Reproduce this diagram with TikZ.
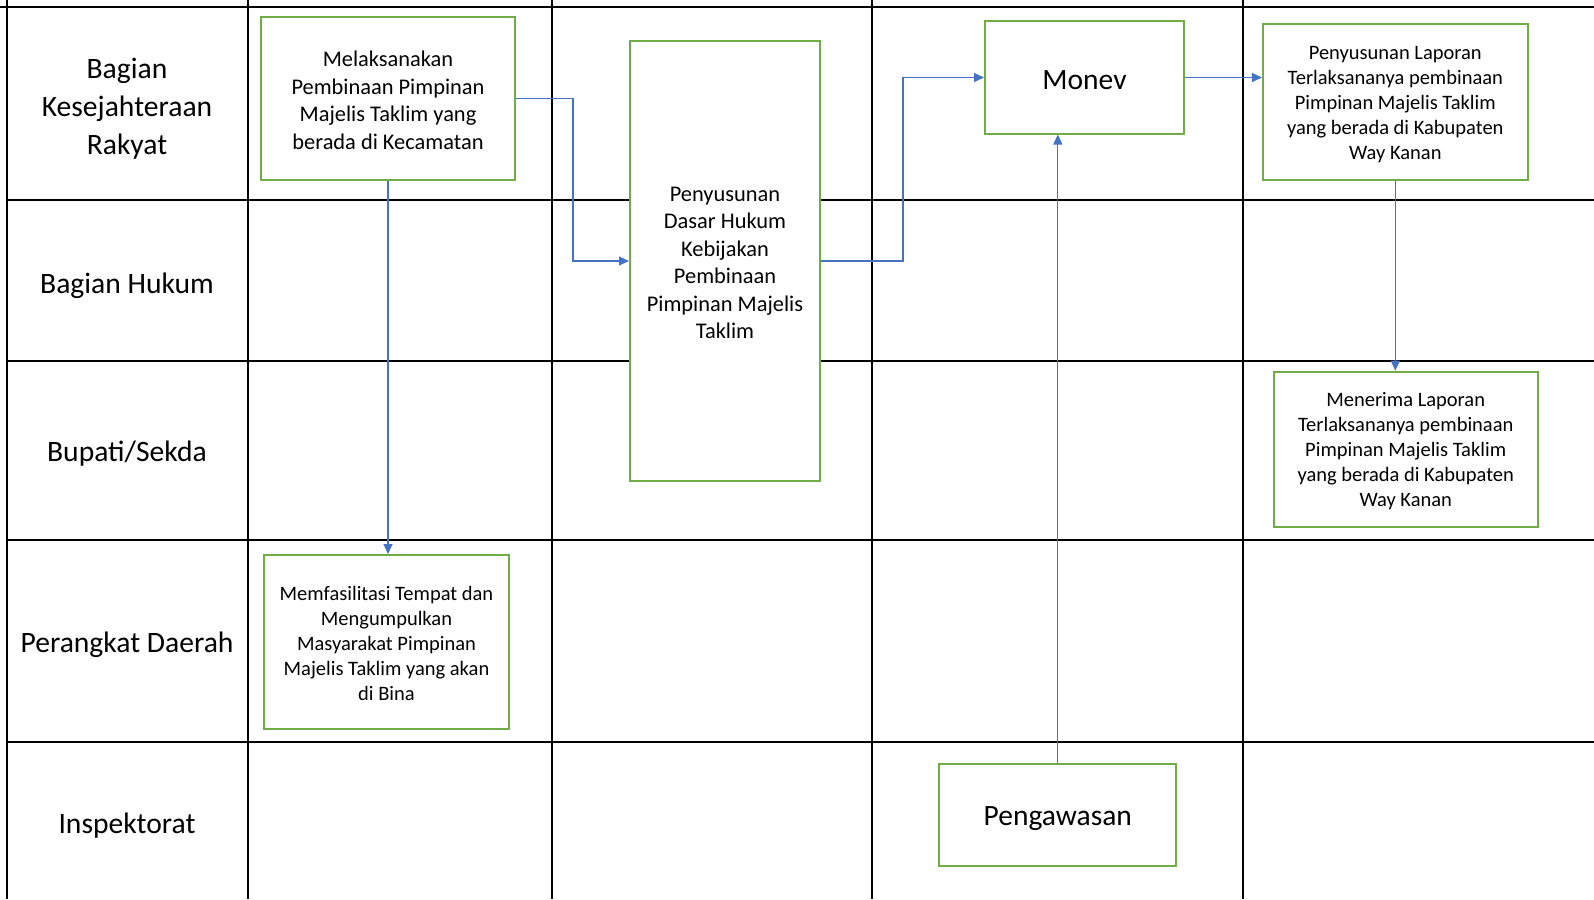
\documentclass[tikz,border=0pt]{standalone}
\usepackage{fontspec}
\setmainfont{Carlito}
\usetikzlibrary{arrows.meta}
\definecolor{boxgreen}{HTML}{70AD47}
\definecolor{lineblue}{HTML}{4472C4}
\tikzset{
  grid/.style={line width=2.5pt, black},
  flowbox/.style={draw=boxgreen, line width=2pt, fill=white, inner sep=0pt},
  boxtext/.style={align=center, inner sep=0pt, text=black},
  txtM/.style={font=\fontsize{22.4}{27.5}\selectfont},
  txtS/.style={font=\fontsize{20.5}{25}\selectfont},
  txtL/.style={font=\fontsize{29.5}{38}\selectfont},
  lanelabel/.style={align=center, inner sep=0pt, font=\fontsize{29.6}{38}\selectfont},
  conn/.style={draw=lineblue, line width=1.1pt, -{Triangle[length=10pt,width=9pt]}}
}
\begin{document}
\begin{tikzpicture}[x=1pt,y=-1pt]
\useasboundingbox (0,0) rectangle (1594,899);
% grid
\draw[grid] (0,7) -- (1594,7);
\foreach \yy in {200,361,540,742} \draw[grid] (7,\yy) -- (1594,\yy);
\foreach \xx in {7,248,552,872,1243} \draw[grid] (\xx,0) -- (\xx,899);
% lane labels
\node[lanelabel] (l1) at (127,109) {Bagian\\Kesejahteraan\\Rakyat};
\node[lanelabel] (l2) at (127,286) {Bagian Hukum};
\node[lanelabel] (l3) at (127,454) {Bupati/Sekda};
\node[lanelabel] (l4) at (127,645) {Perangkat Daerah};
\node[lanelabel] (l5) at (127,826) {Inspektorat};
% boxes
\node[flowbox, minimum width=254pt, minimum height=163pt] (b1) at (388,98.5) {};
\node[flowbox, minimum width=190pt, minimum height=440pt] (b2) at (725,261) {};
\node[flowbox, minimum width=199pt, minimum height=112pt] (monev) at (1084.5,77.5) {};
\node[flowbox, minimum width=264.7pt, minimum height=155.7pt] (b3) at (1395.3,102.2) {};
\node[flowbox, minimum width=264pt, minimum height=155pt] (b4) at (1405.7,449.2) {};
\node[flowbox, minimum width=245pt, minimum height=174pt] (b5) at (386.5,642) {};
\node[flowbox, minimum width=237.3pt, minimum height=101.7pt] (peng) at (1057.8,815.2) {};
% box texts
\node[boxtext, txtM] (t1) at ([yshift=-2pt]b1.center)
  {Melaksanakan\\Pembinaan Pimpinan\\Majelis Taklim yang\\berada di Kecamatan};
\node[boxtext, txtM] (t2) at ([yshift=-2pt]b2.center)
  {Penyusunan\\Dasar Hukum\\Kebijakan\\Pembinaan\\Pimpinan Majelis\\Taklim};
\node[boxtext, txtL] (tm) at ([yshift=-3pt]monev.center) {Monev};
\node[boxtext, txtS] (t3) at ([yshift=-2pt]b3.center)
  {Penyusunan Laporan\\Terlaksananya pembinaan\\Pimpinan Majelis Taklim\\yang berada di Kabupaten\\Way Kanan};
\node[boxtext, txtS] (t4) at ([yshift=-2pt]b4.center)
  {Menerima Laporan\\Terlaksananya pembinaan\\Pimpinan Majelis Taklim\\yang berada di Kabupaten\\Way Kanan};
\node[boxtext, txtS] (t5) at ([yshift=-1.5pt]b5.center)
  {Memfasilitasi Tempat dan\\Mengumpulkan\\Masyarakat Pimpinan\\Majelis Taklim yang akan\\di Bina};
\node[boxtext, txtL] (tp) at ([yshift=-3.5pt]peng.center) {Pengawasan};
% connectors
\draw[conn] (b1.east) -- ++(57,0) |- (b2.west);
\draw[conn] (b2.east) -- ++(82,0) |- (monev.west);
\draw[conn] (monev.east) -- (monev.east -| b3.west);
\draw[conn] (b3.south) -- (b3.south |- b4.north);
\draw[conn] (b1.south) -- (b1.south |- b5.north);
\draw[conn] (peng.north) -- (peng.north |- monev.south);
\end{tikzpicture}
\end{document}
